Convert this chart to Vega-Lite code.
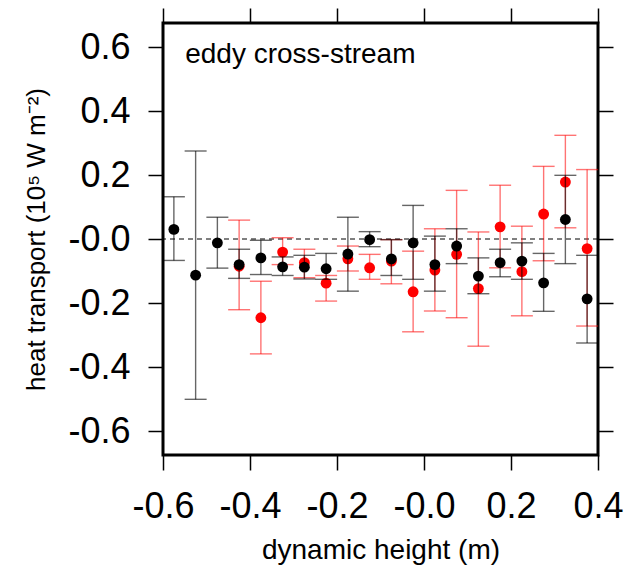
{
  "$schema": "https://vega.github.io/schema/vega-lite/v6.json",
  "width": 435,
  "height": 432,
  "autosize": "none",
  "padding": {"left": 163, "top": 23, "right": 29, "bottom": 118},
  "background": "white",
  "data": {"values": [
    {"x": -0.425, "s": "red", "v": -0.085, "hi": 0.059, "lo": -0.221},
    {"x": -0.375, "s": "red", "v": -0.246, "hi": -0.132, "lo": -0.359},
    {"x": -0.325, "s": "red", "v": -0.041, "hi": 0.004, "lo": -0.080},
    {"x": -0.275, "s": "red", "v": -0.074, "hi": -0.032, "lo": -0.121},
    {"x": -0.225, "s": "red", "v": -0.138, "hi": -0.114, "lo": -0.194},
    {"x": -0.175, "s": "red", "v": -0.062, "hi": -0.022, "lo": -0.100},
    {"x": -0.125, "s": "red", "v": -0.090, "hi": -0.048, "lo": -0.126},
    {"x": -0.075, "s": "red", "v": -0.069, "hi": -0.002, "lo": -0.140},
    {"x": -0.025, "s": "red", "v": -0.165, "hi": -0.038, "lo": -0.290},
    {"x": 0.025, "s": "red", "v": -0.097, "hi": 0.032, "lo": -0.225},
    {"x": 0.075, "s": "red", "v": -0.048, "hi": 0.152, "lo": -0.246},
    {"x": 0.125, "s": "red", "v": -0.155, "hi": 0.022, "lo": -0.335},
    {"x": 0.175, "s": "red", "v": 0.038, "hi": 0.168, "lo": -0.090},
    {"x": 0.225, "s": "red", "v": -0.102, "hi": 0.040, "lo": -0.240},
    {"x": 0.275, "s": "red", "v": 0.078, "hi": 0.227, "lo": -0.068},
    {"x": 0.325, "s": "red", "v": 0.178, "hi": 0.324, "lo": 0.035},
    {"x": 0.375, "s": "red", "v": -0.030, "hi": 0.217, "lo": -0.272},
    {"x": -0.575, "s": "black", "v": 0.030, "hi": 0.132, "lo": -0.067},
    {"x": -0.525, "s": "black", "v": -0.113, "hi": 0.275, "lo": -0.501},
    {"x": -0.475, "s": "black", "v": -0.012, "hi": 0.068, "lo": -0.091},
    {"x": -0.425, "s": "black", "v": -0.080, "hi": -0.032, "lo": -0.123},
    {"x": -0.375, "s": "black", "v": -0.059, "hi": -0.004, "lo": -0.111},
    {"x": -0.325, "s": "black", "v": -0.087, "hi": -0.056, "lo": -0.114},
    {"x": -0.275, "s": "black", "v": -0.088, "hi": -0.051, "lo": -0.125},
    {"x": -0.225, "s": "black", "v": -0.093, "hi": -0.045, "lo": -0.126},
    {"x": -0.175, "s": "black", "v": -0.047, "hi": 0.068, "lo": -0.163},
    {"x": -0.125, "s": "black", "v": -0.002, "hi": 0.023, "lo": -0.024},
    {"x": -0.075, "s": "black", "v": -0.062, "hi": -0.002, "lo": -0.114},
    {"x": -0.025, "s": "black", "v": -0.012, "hi": 0.105, "lo": -0.126},
    {"x": 0.025, "s": "black", "v": -0.080, "hi": 0.009, "lo": -0.163},
    {"x": 0.075, "s": "black", "v": -0.022, "hi": 0.032, "lo": -0.077},
    {"x": 0.125, "s": "black", "v": -0.116, "hi": -0.059, "lo": -0.171},
    {"x": 0.175, "s": "black", "v": -0.074, "hi": -0.032, "lo": -0.118},
    {"x": 0.225, "s": "black", "v": -0.069, "hi": -0.012, "lo": -0.126},
    {"x": 0.275, "s": "black", "v": -0.137, "hi": -0.045, "lo": -0.226},
    {"x": 0.325, "s": "black", "v": 0.061, "hi": 0.199, "lo": -0.077},
    {"x": 0.375, "s": "black", "v": -0.187, "hi": -0.051, "lo": -0.325}
  ]},
  "layer": [
    {
      "data": {"values": [{}]},
      "mark": {"type": "rule", "color": "black", "strokeWidth": 1, "strokeDash": [5, 4]},
      "encoding": {
        "y": {"datum": 0, "type": "quantitative", "scale": {"domain": [-0.675, 0.675], "nice": false, "zero": false}, "axis": null}
      }
    },
    {
      "transform": [{"filter": "datum.s === 'red'"}],
      "mark": {"type": "rule", "color": "#ff0000", "opacity": 0.55, "strokeWidth": 1.4},
      "encoding": {
        "x": {"field": "x", "type": "quantitative", "scale": {"domain": [-0.6, 0.4], "nice": false, "zero": false},
          "axis": {"orient": "bottom", "values": [-0.6, -0.4, -0.2, 0, 0.2, 0.4], "title": "dynamic height (m)",
            "labelExpr": "(datum.value < -0.001 || abs(datum.value) < 0.001 ? '-' : '') + format(abs(datum.value), '.1f')",
            "labelPadding": 19, "titlePadding": 12, "titleFontSize": 28}},
        "y": {"field": "lo", "type": "quantitative", "scale": {"domain": [-0.675, 0.675], "nice": false, "zero": false},
          "axis": {"orient": "left", "values": [-0.6, -0.4, -0.2, 0, 0.2, 0.4, 0.6], "title": "heat transport (10⁵ W m⁻²)",
            "labelExpr": "(datum.value < -0.001 || abs(datum.value) < 0.001 ? '-' : '') + format(abs(datum.value), '.1f')",
            "labelPadding": 18, "titlePadding": 18, "titleFontSize": 26}},
        "y2": {"field": "hi"}
      }
    },
    {
      "transform": [{"filter": "datum.s === 'red'"}],
      "mark": {"type": "tick", "orient": "horizontal", "size": 22, "thickness": 1.4, "color": "#ff0000", "opacity": 0.55},
      "encoding": {
        "x": {"field": "x", "type": "quantitative", "scale": {"domain": [-0.6, 0.4], "nice": false, "zero": false},
          "axis": {"orient": "top", "values": [-0.6, -0.4, -0.2, 0, 0.2, 0.4], "labels": false, "title": null}},
        "y": {"field": "hi", "type": "quantitative", "scale": {"domain": [-0.675, 0.675], "nice": false, "zero": false},
          "axis": {"orient": "right", "values": [-0.6, -0.4, -0.2, 0, 0.2, 0.4, 0.6], "labels": false, "title": null}}
      }
    },
    {
      "transform": [{"filter": "datum.s === 'red'"}],
      "mark": {"type": "tick", "orient": "horizontal", "size": 22, "thickness": 1.4, "color": "#ff0000", "opacity": 0.55},
      "encoding": {
        "x": {"field": "x", "type": "quantitative", "scale": {"domain": [-0.6, 0.4], "nice": false, "zero": false}, "axis": null},
        "y": {"field": "lo", "type": "quantitative", "scale": {"domain": [-0.675, 0.675], "nice": false, "zero": false}, "axis": null}
      }
    },
    {
      "transform": [{"filter": "datum.s === 'red'"}],
      "mark": {"type": "point", "filled": true, "shape": "circle", "size": 118, "color": "#ff0000", "opacity": 1},
      "encoding": {
        "x": {"field": "x", "type": "quantitative", "scale": {"domain": [-0.6, 0.4], "nice": false, "zero": false}, "axis": null},
        "y": {"field": "v", "type": "quantitative", "scale": {"domain": [-0.675, 0.675], "nice": false, "zero": false}, "axis": null}
      }
    },
    {
      "transform": [{"filter": "datum.s === 'black'"}],
      "mark": {"type": "rule", "color": "black", "opacity": 0.6, "strokeWidth": 1.4},
      "encoding": {
        "x": {"field": "x", "type": "quantitative", "scale": {"domain": [-0.6, 0.4], "nice": false, "zero": false}, "axis": null},
        "y": {"field": "lo", "type": "quantitative", "scale": {"domain": [-0.675, 0.675], "nice": false, "zero": false}, "axis": null},
        "y2": {"field": "hi"}
      }
    },
    {
      "transform": [{"filter": "datum.s === 'black'"}],
      "mark": {"type": "tick", "orient": "horizontal", "size": 22, "thickness": 1.4, "color": "black", "opacity": 0.6},
      "encoding": {
        "x": {"field": "x", "type": "quantitative", "scale": {"domain": [-0.6, 0.4], "nice": false, "zero": false}, "axis": null},
        "y": {"field": "hi", "type": "quantitative", "scale": {"domain": [-0.675, 0.675], "nice": false, "zero": false}, "axis": null}
      }
    },
    {
      "transform": [{"filter": "datum.s === 'black'"}],
      "mark": {"type": "tick", "orient": "horizontal", "size": 22, "thickness": 1.4, "color": "black", "opacity": 0.6},
      "encoding": {
        "x": {"field": "x", "type": "quantitative", "scale": {"domain": [-0.6, 0.4], "nice": false, "zero": false}, "axis": null},
        "y": {"field": "lo", "type": "quantitative", "scale": {"domain": [-0.675, 0.675], "nice": false, "zero": false}, "axis": null}
      }
    },
    {
      "transform": [{"filter": "datum.s === 'black'"}],
      "mark": {"type": "point", "filled": true, "shape": "circle", "size": 118, "color": "black", "opacity": 1},
      "encoding": {
        "x": {"field": "x", "type": "quantitative", "scale": {"domain": [-0.6, 0.4], "nice": false, "zero": false}, "axis": null},
        "y": {"field": "v", "type": "quantitative", "scale": {"domain": [-0.675, 0.675], "nice": false, "zero": false}, "axis": null}
      }
    },
    {
      "data": {"values": [{}]},
      "mark": {"type": "text", "text": "eddy cross-stream", "align": "left", "baseline": "alphabetic", "font": "Liberation Sans", "fontSize": 28, "color": "black"},
      "encoding": {
        "x": {"datum": -0.549, "type": "quantitative", "scale": {"domain": [-0.6, 0.4], "nice": false, "zero": false}, "axis": null},
        "y": {"datum": 0.55, "type": "quantitative", "scale": {"domain": [-0.675, 0.675], "nice": false, "zero": false}, "axis": null}
      }
    }
  ],
  "resolve": {"axis": {"x": "independent", "y": "independent"}},
  "config": {
    "view": {"stroke": "black", "strokeWidth": 3},
    "axis": {
      "domain": false, "grid": false, "ticks": true, "tickColor": "black", "tickWidth": 1.5, "tickSize": 15,
      "labelFont": "Liberation Sans", "labelFontSize": 36, "labelColor": "black",
      "labelOverlap": false, "labelFlush": false, "labelBound": false,
      "titleFont": "Liberation Sans", "titleFontWeight": "normal", "titleColor": "black"
    }
  }
}
